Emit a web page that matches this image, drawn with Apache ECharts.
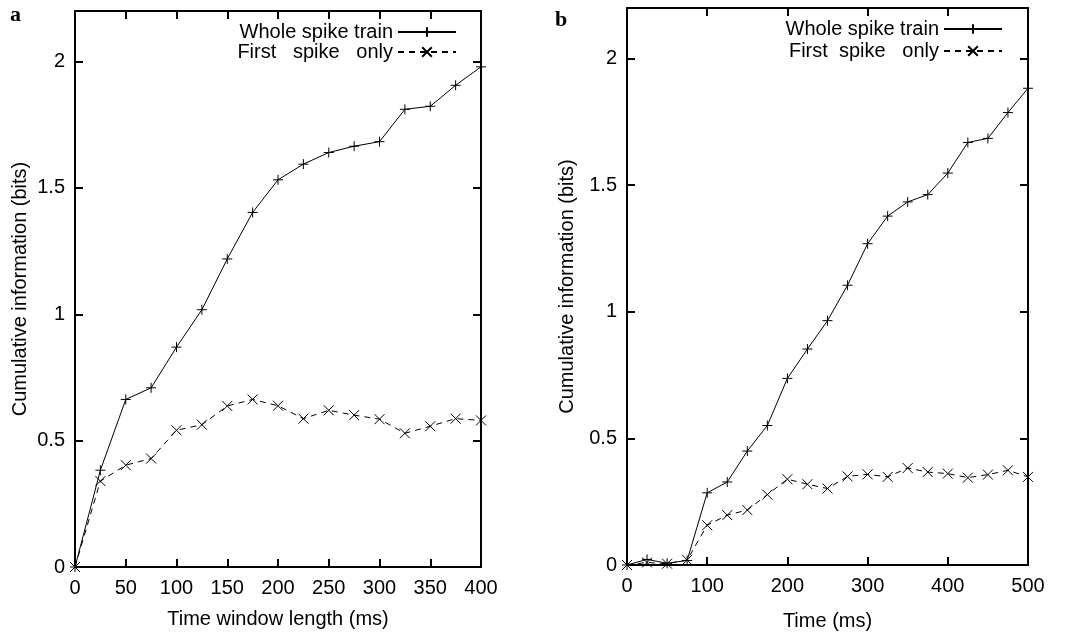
<!DOCTYPE html>
<html>
<head>
<meta charset="utf-8">
<script src="https://cdn.jsdelivr.net/npm/echarts@6/dist/echarts.min.js"></script>
<style>
  html, body { margin: 0; padding: 0; background: #fff; }
  #main { width: 1074px; height: 635px; }
</style>
</head>
<body>
<div id="main"></div>
<script>
// panel a : time window length (ms)
const timeA = [0, 25, 50, 75, 100, 125, 150, 175, 200, 225, 250, 275, 300, 325, 350, 375, 400];
const wholeA = [0, 0.383, 0.663, 0.709, 0.870, 1.018, 1.219, 1.403, 1.532, 1.594, 1.640, 1.665, 1.683, 1.811, 1.823, 1.906, 1.979];
const firstA = [0, 0.340, 0.403, 0.429, 0.541, 0.563, 0.637, 0.663, 0.638, 0.587, 0.620, 0.601, 0.585, 0.529, 0.557, 0.587, 0.580];

// panel b : time (ms)
const timeB = [0, 25, 50, 75, 100, 125, 150, 175, 200, 225, 250, 275, 300, 325, 350, 375, 400, 425, 450, 475, 500];
const wholeB = [0, 0.022, 0.007, 0.018, 0.285, 0.328, 0.450, 0.551, 0.737, 0.853, 0.965, 1.105, 1.269, 1.378, 1.434, 1.463, 1.548, 1.669, 1.685, 1.787, 1.883];
const firstB = [0, 0.010, 0.005, 0.020, 0.157, 0.197, 0.217, 0.278, 0.339, 0.319, 0.302, 0.350, 0.358, 0.348, 0.383, 0.367, 0.361, 0.345, 0.357, 0.374, 0.348];

const namesA = ['Whole spike train', 'First   spike   only'];
const namesB = ['Whole spike train', 'First  spike   only'];

const FONT = 'Liberation Sans, Arial, sans-serif';
const PLUS = 'path://M0,5L10,5M5,0L5,10';
const CROSS = 'path://M0,0L10,10M10,0L0,10';

function pairs(xs, ys) {
  return xs.map((x, i) => [x, ys[i]]);
}

// bottom/left axis with labels, top/right mirror with ticks only
function xAxes(gridIndex, max, interval, name, nameGap) {
  const base = {
    type: 'value', gridIndex: gridIndex, min: 0, max: max, interval: interval,
    splitLine: { show: false },
    axisLine: { onZero: false, lineStyle: { color: '#000', width: 2 } },
    axisTick: { inside: true, length: 8, lineStyle: { color: '#000', width: 2 } }
  };
  return [
    Object.assign({}, base, {
      position: 'bottom',
      name: name, nameLocation: 'middle', nameGap: nameGap,
      nameTextStyle: { color: '#000', fontSize: 20, fontFamily: FONT },
      axisLabel: { color: '#000', fontSize: 20, fontFamily: FONT, margin: 11 }
    }),
    Object.assign({}, base, { position: 'top', axisLabel: { show: false } })
  ];
}

function yAxes(gridIndex, nameGap) {
  const base = {
    type: 'value', gridIndex: gridIndex, min: 0, max: 2.2, interval: 0.5,
    splitLine: { show: false },
    axisLine: { onZero: false, lineStyle: { color: '#000', width: 2 } },
    axisTick: { inside: true, length: 8, lineStyle: { color: '#000', width: 2 } }
  };
  return [
    Object.assign({}, base, {
      position: 'left',
      name: 'Cumulative information (bits)', nameLocation: 'middle', nameGap: nameGap,
      nameTextStyle: { color: '#000', fontSize: 20, fontFamily: FONT },
      axisLabel: { color: '#000', fontSize: 20, fontFamily: FONT, margin: 10, showMaxLabel: false }
    }),
    Object.assign({}, base, { position: 'right', axisLabel: { show: false } })
  ];
}

function lineSeries(name, data, axisIdx, symbol, dashed) {
  return {
    type: 'line', name: name, data: data,
    xAxisIndex: axisIdx, yAxisIndex: axisIdx,
    symbol: symbol, symbolSize: 10, showSymbol: true,
    lineStyle: { color: '#000', width: 1, type: dashed ? [6, 5] : 'solid' },
    itemStyle: { color: '#000', borderColor: '#000', borderWidth: 1 },
    emphasis: { disabled: true },
    z: 3
  };
}

const legendBase = {
  orient: 'vertical', align: 'right', padding: 0,
  itemWidth: 58, itemHeight: 12, itemGap: 0,
  textStyle: { color: '#000', fontSize: 20, fontFamily: FONT, lineHeight: 20 },
  selectedMode: false
};

const option = {
  animation: false,
  backgroundColor: '#fff',
  title: [
    { text: 'a', left: 5, top: -1, textStyle: { fontFamily: 'Liberation Serif, serif', fontWeight: 'bold', fontSize: 22, color: '#000' } },
    { text: 'b', left: 550, top: 4, textStyle: { fontFamily: 'Liberation Serif, serif', fontWeight: 'bold', fontSize: 22, color: '#000' } }
  ],
  legend: [
    Object.assign({}, legendBase, { data: namesA, right: 617, top: 22 }),
    Object.assign({}, legendBase, { data: namesB, right: 71, top: 19, itemGap: 2 })
  ],
  grid: [
    { left: 75, top: 11, width: 406, height: 556, outerBoundsMode: 'none' },
    { left: 627, top: 8, width: 401, height: 557, outerBoundsMode: 'none' }
  ],
  xAxis: [].concat(
    xAxes(0, 400, 50, 'Time window length (ms)', 42),
    xAxes(1, 500, 100, 'Time (ms)', 46)
  ),
  yAxis: [].concat(
    yAxes(0, 45),
    yAxes(1, 50)
  ),
  series: [
    lineSeries(namesA[0], pairs(timeA, wholeA), 0, PLUS, false),
    lineSeries(namesA[1], pairs(timeA, firstA), 0, CROSS, true),
    lineSeries(namesB[0], pairs(timeB, wholeB), 2, PLUS, false),
    lineSeries(namesB[1], pairs(timeB, firstB), 2, CROSS, true)
  ]
};

const chartDom = document.getElementById('main');
const myChart = echarts.init(chartDom);
myChart.setOption(option);
</script>
</body>
</html>
